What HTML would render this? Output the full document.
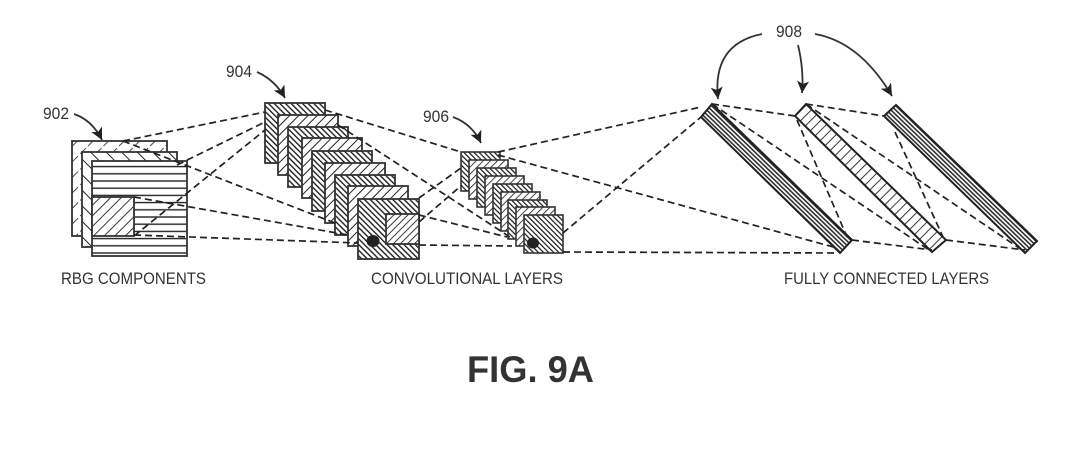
<!DOCTYPE html>
<html><head><meta charset="utf-8"><style>html,body{margin:0;padding:0;background:#fff}svg{display:block}text{font-family:"Liberation Sans",sans-serif;fill:#333}</style></head><body>
<svg width="1079" height="450" viewBox="0 0 1079 450" xmlns="http://www.w3.org/2000/svg">
<defs>
<pattern id="lightF" width="11" height="11" patternUnits="userSpaceOnUse" patternTransform="rotate(45)"><rect width="11" height="11" fill="#fff"/><line x1="0" y1="0" x2="0" y2="11" stroke="#333" stroke-width="1.8" stroke-dasharray="8 3"/></pattern>
<pattern id="chev" width="11" height="11" patternUnits="userSpaceOnUse" patternTransform="rotate(-45)"><rect width="11" height="11" fill="#fff"/><line x1="0" y1="0" x2="0" y2="11" stroke="#222" stroke-width="2"/></pattern>
<pattern id="hor" width="8" height="7.2" patternUnits="userSpaceOnUse"><rect width="8" height="7.2" fill="#fff"/><line x1="0" y1="1" x2="8" y2="1" stroke="#222" stroke-width="1.4"/></pattern>
<pattern id="wide" width="7.5" height="7.5" patternUnits="userSpaceOnUse" patternTransform="rotate(45)"><rect width="7.5" height="7.5" fill="#fff"/><line x1="0" y1="0" x2="0" y2="7.5" stroke="#222" stroke-width="1.8"/></pattern>
<pattern id="dark" width="4" height="4" patternUnits="userSpaceOnUse" patternTransform="rotate(-45)"><rect width="4" height="4" fill="#fff"/><line x1="0" y1="0" x2="0" y2="4" stroke="#1a1a1a" stroke-width="2.7"/></pattern>
<pattern id="light" width="6.5" height="6.5" patternUnits="userSpaceOnUse" patternTransform="rotate(45)"><rect width="6.5" height="6.5" fill="#fff"/><line x1="0" y1="0" x2="0" y2="6.5" stroke="#222" stroke-width="2"/></pattern>
<pattern id="light2" width="5" height="5" patternUnits="userSpaceOnUse" patternTransform="rotate(45)"><rect width="5" height="5" fill="#fff"/><line x1="0" y1="0" x2="0" y2="5" stroke="#222" stroke-width="1.8"/></pattern>
<pattern id="darkS" width="3.6" height="3.6" patternUnits="userSpaceOnUse" patternTransform="rotate(-45)"><rect width="3.6" height="3.6" fill="#fff"/><line x1="0" y1="0" x2="0" y2="3.6" stroke="#1a1a1a" stroke-width="2.4"/></pattern>
<pattern id="barA" width="3.2" height="3.2" patternUnits="userSpaceOnUse" patternTransform="rotate(44)"><rect width="3.2" height="3.2" fill="#fff"/><line x1="0" y1="1" x2="3.2" y2="1" stroke="#222" stroke-width="1.5"/></pattern>
<pattern id="barB" width="7" height="7" patternUnits="userSpaceOnUse" patternTransform="rotate(45)"><rect width="7" height="7" fill="#fff"/><line x1="0" y1="0" x2="0" y2="7" stroke="#222" stroke-width="1.8"/></pattern>
<pattern id="hatch906" width="5" height="5" patternUnits="userSpaceOnUse" patternTransform="rotate(45)"><rect width="5" height="5" fill="#fff"/><line x1="0" y1="0" x2="0" y2="5" stroke="#222" stroke-width="1.7"/></pattern>
<marker id="ah" markerWidth="13" markerHeight="12" refX="12" refY="6" orient="auto" markerUnits="userSpaceOnUse"><path d="M0,0 L12,6 L0,12 L3,6 Z" fill="#222"/></marker>
</defs>

<!-- RGB -->
<g stroke="#333" stroke-width="1.8">
<rect x="72" y="141" width="95" height="95" fill="url(#lightF)"/>
<rect x="82" y="152" width="95" height="95" fill="url(#chev)"/>
<rect x="92" y="161" width="95" height="95" fill="url(#hor)"/>
<rect x="92" y="197" width="42" height="39" fill="url(#wide)"/>
</g>

<!-- 904 stack -->
<g stroke="#333" stroke-width="1.8">
<rect x="265" y="103" width="60" height="60" fill="url(#dark)"/>
<rect x="278" y="115" width="60" height="60" fill="url(#light)"/>
<rect x="288" y="127" width="60" height="60" fill="url(#dark)"/>
<rect x="302" y="138" width="60" height="60" fill="url(#light)"/>
<rect x="312" y="151" width="60" height="60" fill="url(#dark)"/>
<rect x="325" y="163" width="60" height="60" fill="url(#light)"/>
<rect x="335" y="175" width="60" height="60" fill="url(#dark)"/>
<rect x="348" y="186" width="60" height="60" fill="url(#light)"/>
<rect x="358" y="199" width="61" height="60" fill="url(#dark)"/>
<rect x="386" y="214" width="33" height="30" fill="url(#light2)"/>
</g>
<ellipse cx="373" cy="241" rx="6.5" ry="6" fill="#222"/>

<!-- 906 stack -->
<g stroke="#333" stroke-width="1.6">
<rect x="461" y="152" width="39" height="39" fill="url(#darkS)"/>
<rect x="469" y="160" width="39" height="39" fill="url(#hatch906)"/>
<rect x="477" y="168" width="39" height="39" fill="url(#darkS)"/>
<rect x="485" y="176" width="39" height="39" fill="url(#hatch906)"/>
<rect x="493" y="184" width="39" height="39" fill="url(#darkS)"/>
<rect x="501" y="192" width="39" height="39" fill="url(#hatch906)"/>
<rect x="508" y="200" width="39" height="39" fill="url(#darkS)"/>
<rect x="516" y="207" width="39" height="39" fill="url(#hatch906)"/>
<rect x="524" y="215" width="39" height="38" fill="url(#darkS)"/>
</g>
<ellipse cx="533" cy="243" rx="6" ry="5.5" fill="#222"/>

<!-- Bars -->
<g stroke="#222" stroke-width="2">
<polygon points="712,104 701,117 840,253 852,240" fill="url(#barA)"/>
<polygon points="806,104 795,116 932,252 946,240" fill="url(#barB)"/>
<polygon points="896,105 884,116 1025,253 1037,241" fill="url(#barA)"/>
</g>
<g stroke="#222" stroke-width="1.8" fill="none">
<line x1="712" y1="104" x2="852" y2="240"/>
<line x1="896" y1="105" x2="1037" y2="241"/>
</g>

<!-- Dashed connectors -->
<g stroke="#222" stroke-width="1.7" stroke-dasharray="7 4" fill="none">
<line x1="123" y1="141" x2="265" y2="112"/>
<line x1="177" y1="165" x2="265" y2="122"/>
<line x1="134" y1="236" x2="265" y2="130"/>
<line x1="123" y1="141" x2="335" y2="223"/>
<line x1="134" y1="197" x2="348" y2="235"/>
<line x1="134" y1="235" x2="358" y2="243"/>
<line x1="325" y1="110" x2="461" y2="152"/>
<line x1="338" y1="125" x2="510" y2="237"/>
<line x1="419" y1="215" x2="507" y2="237"/>
<line x1="419" y1="245" x2="512" y2="246"/>
<line x1="419" y1="198" x2="461" y2="168"/>
<line x1="419" y1="222" x2="462" y2="185"/>
<line x1="498" y1="152" x2="701" y2="107"/>
<line x1="498" y1="155" x2="837" y2="248"/>
<line x1="563" y1="233" x2="701" y2="117"/>
<line x1="563" y1="252" x2="838" y2="253"/>
<line x1="712" y1="104" x2="795" y2="116"/>
<line x1="712" y1="104" x2="932" y2="252"/>
<line x1="852" y1="240" x2="932" y2="250"/>
<line x1="797" y1="120" x2="847" y2="237"/>
<line x1="806" y1="104" x2="884" y2="116"/>
<line x1="806" y1="104" x2="1025" y2="252"/>
<line x1="946" y1="240" x2="1025" y2="250"/>
<line x1="895" y1="132" x2="943" y2="237"/>
</g>

<!-- Reference arrows -->
<g stroke="#333" stroke-width="1.8" fill="none">
<path d="M74,114 Q92,120 102,140" marker-end="url(#ah)"/>
<path d="M257,72 Q275,80 285,98" marker-end="url(#ah)"/>
<path d="M453,117 Q472,124 481,143" marker-end="url(#ah)"/>
<path d="M762,34 Q712,44 718,99" marker-end="url(#ah)"/>
<path d="M798,45 Q804,70 802,93" marker-end="url(#ah)"/>
<path d="M815,34 Q860,42 892,96" marker-end="url(#ah)"/>
</g>

<!-- Labels -->
<text x="43" y="119" font-size="17" textLength="26" lengthAdjust="spacingAndGlyphs">902</text>
<text x="226" y="77" font-size="17" textLength="26" lengthAdjust="spacingAndGlyphs">904</text>
<text x="423" y="122" font-size="17" textLength="26" lengthAdjust="spacingAndGlyphs">906</text>
<text x="776" y="37" font-size="17" textLength="26" lengthAdjust="spacingAndGlyphs">908</text>
<text x="61" y="284" font-size="17" textLength="145" lengthAdjust="spacingAndGlyphs">RBG COMPONENTS</text>
<text x="371" y="284" font-size="17" textLength="192" lengthAdjust="spacingAndGlyphs">CONVOLUTIONAL LAYERS</text>
<text x="784" y="284" font-size="17" textLength="205" lengthAdjust="spacingAndGlyphs">FULLY CONNECTED LAYERS</text>
<text x="467" y="382" font-size="37" font-weight="700" textLength="127" lengthAdjust="spacingAndGlyphs">FIG. 9A</text>
</svg>
</body></html>
